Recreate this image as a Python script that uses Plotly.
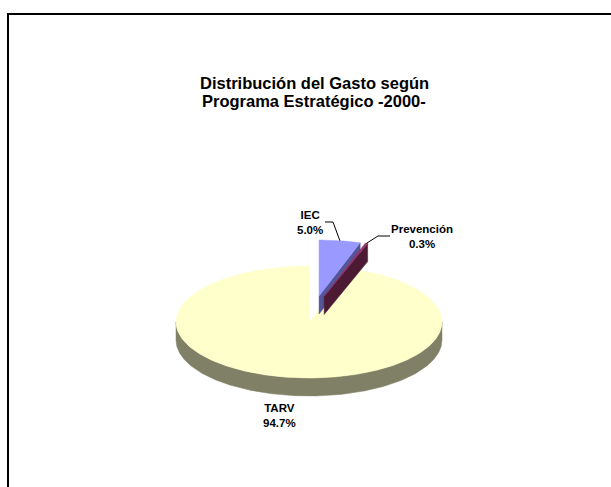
import math
import plotly.graph_objects as go

# ---- data ----
categories = ["IEC", "Prevención", "TARV"]
shares = [5.0, 0.3, 94.7]
exploded = [True, True, False]
face_colors = ["#9999FF", "#993366", "#FFFFCC"]
side_colors = ["#55559A", "#4D1A33", "#808066"]
title_lines = ["Distribución del Gasto según", "Programa Estratégico -2000-"]

# ---- geometry (pixel space) ----
W, H = 611, 487
CX, CY = 309, 322      # centre of the top face
RX, RY = 133, 56       # ellipse radii
DEPTH = 18
EXPLODE = 0.47

def pt(theta_deg, r=1.0, off=(0.0, 0.0), dy=0.0):
    t = math.radians(theta_deg)
    return (CX + RX * r * math.sin(t) + off[0], CY - RY * r * math.cos(t) + off[1] + dy)

def arc(a1, a2, off=(0, 0), dy=0.0, n=120):
    steps = max(2, int(abs(a2 - a1) / 360 * n * 4) + 2)
    return [pt(a1 + (a2 - a1) * i / (steps - 1), 1.0, off, dy) for i in range(steps)]

fig = go.Figure()

def poly(points, color):
    xs = [p[0] for p in points] + [points[0][0]]
    ys = [p[1] for p in points] + [points[0][1]]
    fig.add_trace(go.Scatter(x=xs, y=ys, mode="lines", fill="toself",
                             fillcolor=color, line=dict(color=color, width=0.5),
                             hoverinfo="skip", showlegend=False))

total = sum(shares)
angles = []
a = 0.0
for s in shares:
    a2 = a + s / total * 360.0
    angles.append((a, a2))
    a = a2

# exploded slices are pulled out along a blend of their own and the group's mid-angle
ex_angles = [ang for ang, ex in zip(angles, exploded) if ex]
group_mid = (min(x[0] for x in ex_angles) + max(x[1] for x in ex_angles)) / 2
offsets = []
for (a1, a2), ex in zip(angles, exploded):
    if ex:
        mid = math.radians(0.5 * (a1 + a2) / 2 + 0.5 * group_mid)
        offsets.append((RX * EXPLODE * math.sin(mid), -RY * EXPLODE * math.cos(mid)))
    else:
        offsets.append((0.0, 0.0))

# main slice: front outer wall, then top face
for i in range(len(shares)):
    if exploded[i]:
        continue
    a1, a2 = angles[i]
    lo, hi = max(a1, 90), min(a2, 270)
    if hi > lo:
        poly(arc(lo, hi) + arc(hi, lo, dy=DEPTH), side_colors[i])
    poly([pt(0, 0)] + arc(a1, a2), face_colors[i])

# exploded slices: visible radial cut side, then top face
for i in range(len(shares)):
    if not exploded[i]:
        continue
    a1, a2 = angles[i]
    off = offsets[i]
    v = pt(0, 0, off)
    e = pt(a2, 1, off)
    poly([v, e, (e[0], e[1] + DEPTH), (v[0], v[1] + DEPTH)], side_colors[i])
    poly([v] + arc(a1, a2, off), face_colors[i])

# ---- labels ----
label_pos = {"IEC": (310, 222), "Prevención": (422, 236), "TARV": (279, 415)}
leader_elbow = {"IEC": [(325, 222), (333, 222)], "Prevención": [(390, 236), (378, 236)]}
for i, name in enumerate(categories):
    x, y = label_pos[name]
    fig.add_annotation(x=x, y=y, xref="x", yref="y", showarrow=False,
                       text=f"<b>{name}</b><br><b>{shares[i]:.1f}%</b>",
                       font=dict(family="Liberation Sans, Arial", size=11.5, color="black"),
                       align="center")
    if name in leader_elbow:
        a1, a2 = angles[i]
        end = pt((a1 + a2) / 2, 1, offsets[i])
        pts = leader_elbow[name] + [end]
        fig.add_trace(go.Scatter(x=[p[0] for p in pts], y=[p[1] for p in pts],
                                 mode="lines", line=dict(color="black", width=1),
                                 hoverinfo="skip", showlegend=False))

for k, line in enumerate(title_lines):
    fig.add_annotation(x=314, y=83 + 18 * k, xref="x", yref="y", showarrow=False,
                       text=f"<b>{line}</b>",
                       font=dict(family="Liberation Sans, Arial", size=16.5, color="black"))

# chart-area border: only its left and top edges fall inside the picture
fig.add_shape(type="path", xref="paper", yref="paper",
              path="M 0.0131 -0.05 L 0.0131 0.9713 L 1.05 0.9713",
              line=dict(color="black", width=2), layer="below")

fig.update_layout(
    width=W, height=H, autosize=False,
    margin=dict(l=0, r=0, t=0, b=0),
    paper_bgcolor="white", plot_bgcolor="white",
    xaxis=dict(range=[0, W], visible=False, fixedrange=True),
    yaxis=dict(range=[H, 0], visible=False, fixedrange=True),
)
fig.write_html("out.html")
